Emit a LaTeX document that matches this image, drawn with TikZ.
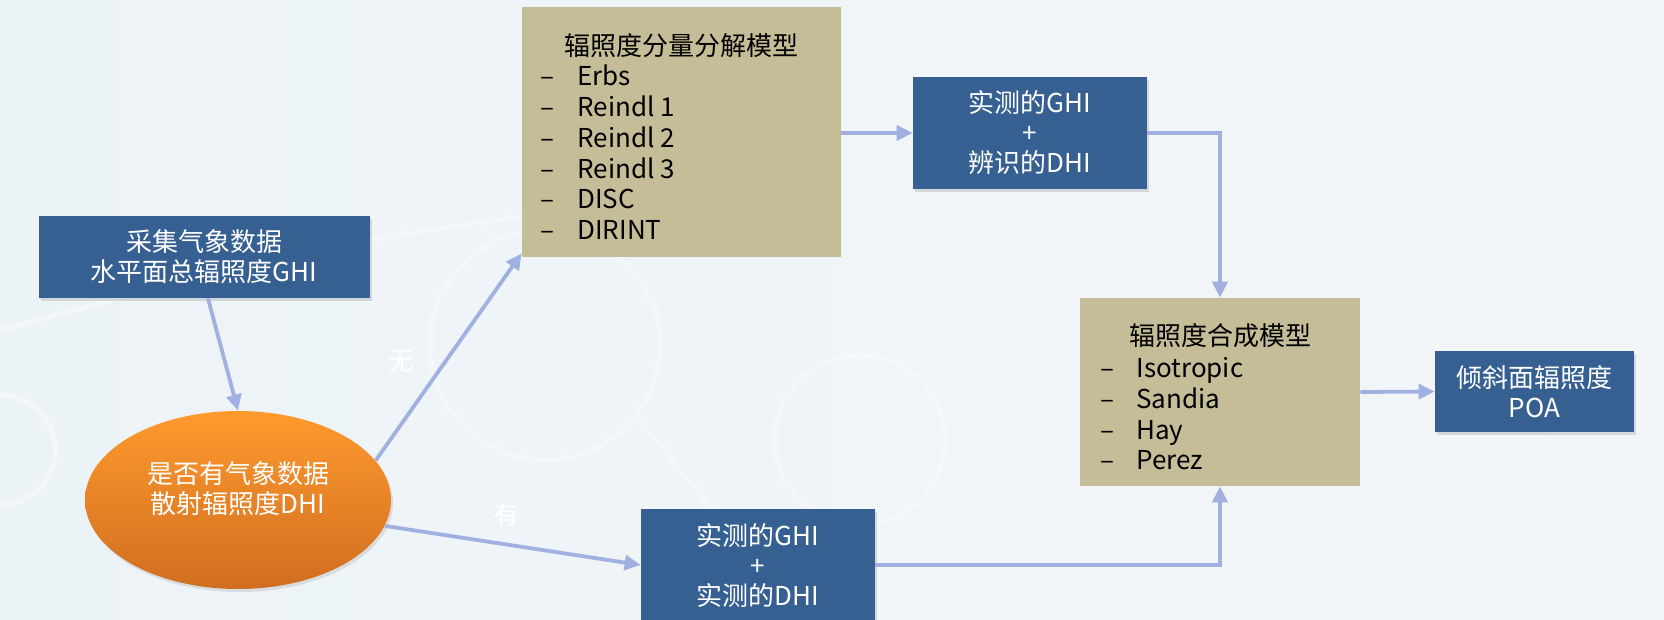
\documentclass[tikz,border=0pt]{standalone}
\usepackage{fontspec}
\setmainfont{Noto Sans CJK SC}
\usetikzlibrary{arrows.meta,shapes.geometric,shadows,calc}
\definecolor{boxblue}{RGB}{54,96,146}
\definecolor{boxtan}{RGB}{196,189,151}
\definecolor{arr}{RGB}{160,176,224}
\definecolor{orangetop}{RGB}{255,154,46}
\definecolor{orangebot}{RGB}{208,110,32}
\definecolor{bgA}{RGB}{236,243,247}
\definecolor{bgB}{RGB}{243,246,248}
\begin{document}
\begin{tikzpicture}[x=0.5pt,y=-0.5pt,
  bluebox/.style={rectangle, fill=boxblue, text=white, align=center, inner sep=0pt,
    font=\fontsize{13}{15}\selectfont,
    drop shadow={opacity=0.25,shadow xshift=1pt,shadow yshift=-1.5pt}},
  tanbox/.style={rectangle, fill=boxtan, inner sep=0pt},
  lbl/.style={font=\fontsize{13}{15}\selectfont, text=black, inner sep=0pt},
  flow/.style={draw=arr, line width=1.9pt, -{Triangle[length=8pt,width=7.5pt]}},
  deco/.style={draw=white, line width=2.5pt, opacity=0.35},
]
\useasboundingbox (0,0) rectangle (1664,620);
\clip (0,0) rectangle (1664,620);
\shade[left color=bgA, right color=bgB] (0,0) rectangle (1664,620);
% faint background decoration
\draw[deco] (545,345) circle (115);
\draw[deco] (860,440) circle (85);
\draw[deco] (0,450) circle (55);
\draw[deco] (0,330) -- (300,250) -- (760,180);
\draw[deco] (640,420) -- (800,620);

% nodes
\node[bluebox, minimum width=165.5pt, minimum height=41pt] (b1) at (204,257)
  {采集气象数据\\水平面总辐照度GHI};
\node[ellipse, minimum width=153pt, minimum height=89pt, inner sep=0pt,
  top color=orangetop, bottom color=orangebot,
  drop shadow={opacity=0.2,shadow xshift=1pt,shadow yshift=-1.5pt}] (dec) at (238,500) {};
\node[lbl, text=white, align=center] (dect) at (238,489) {是否有气象数据\\散射辐照度DHI};

\node[tanbox, minimum width=159.5pt, minimum height=125pt] (b2) at (681.5,132) {};
\node[lbl, anchor=base] (b2t) at (681.5,56) {辐照度分量分解模型};
\foreach \t [count=\i] in {Erbs, Reindl 1, Reindl 2, Reindl 3, DISC, DIRINT} {
  \node[lbl, anchor=base west] (md\i) at (540,55+30.8*\i) {–};
  \node[lbl, anchor=base west] (m\i) at (577,55+30.8*\i) {\t};
}

\node[bluebox, minimum width=117pt, minimum height=56pt] (b3) at (1030,133)
  {实测的GHI\\+\\辨识的DHI};
\node[bluebox, minimum width=117pt, minimum height=56pt] (b5) at (758,565)
  {实测的GHI\\+\\实测的DHI};

\node[tanbox, minimum width=140pt, minimum height=94pt] (b4) at (1220,392) {};
\node[lbl, anchor=base] (b4t) at (1220,345) {辐照度合成模型};
\foreach \t [count=\i] in {Isotropic, Sandia, Hay, Perez} {
  \node[lbl, anchor=base west] (sd\i) at (1100,347+30.7*\i) {–};
  \node[lbl, anchor=base west] (s\i) at (1136,347+30.7*\i) {\t};
}

\node[bluebox, minimum width=99.5pt, minimum height=40.5pt] (poa) at (1534.5,391.5)
  {倾斜面辐照度\\POA};

% connectors
\draw[flow] ($(b1.south)+(4,0)$) -- (dec.north);
\draw[flow] (dec.16) -- ($(b2.south west)+(0,-4)$);
\draw[flow] (dec.-10) -- (b5.west);
\draw[flow] (b2.east |- b3.west) -- (b3.west);
\draw[flow] (b3.east) -| (b4.north);
\draw[flow] (b5.east) -| (b4.south);
\draw[flow] (b4.east) -- (poa.west);

\node[lbl, text=white] (lw) at (401,361) {无};
\node[lbl, text=white] (ly) at (506,515) {有};
\end{tikzpicture}
\end{document}
